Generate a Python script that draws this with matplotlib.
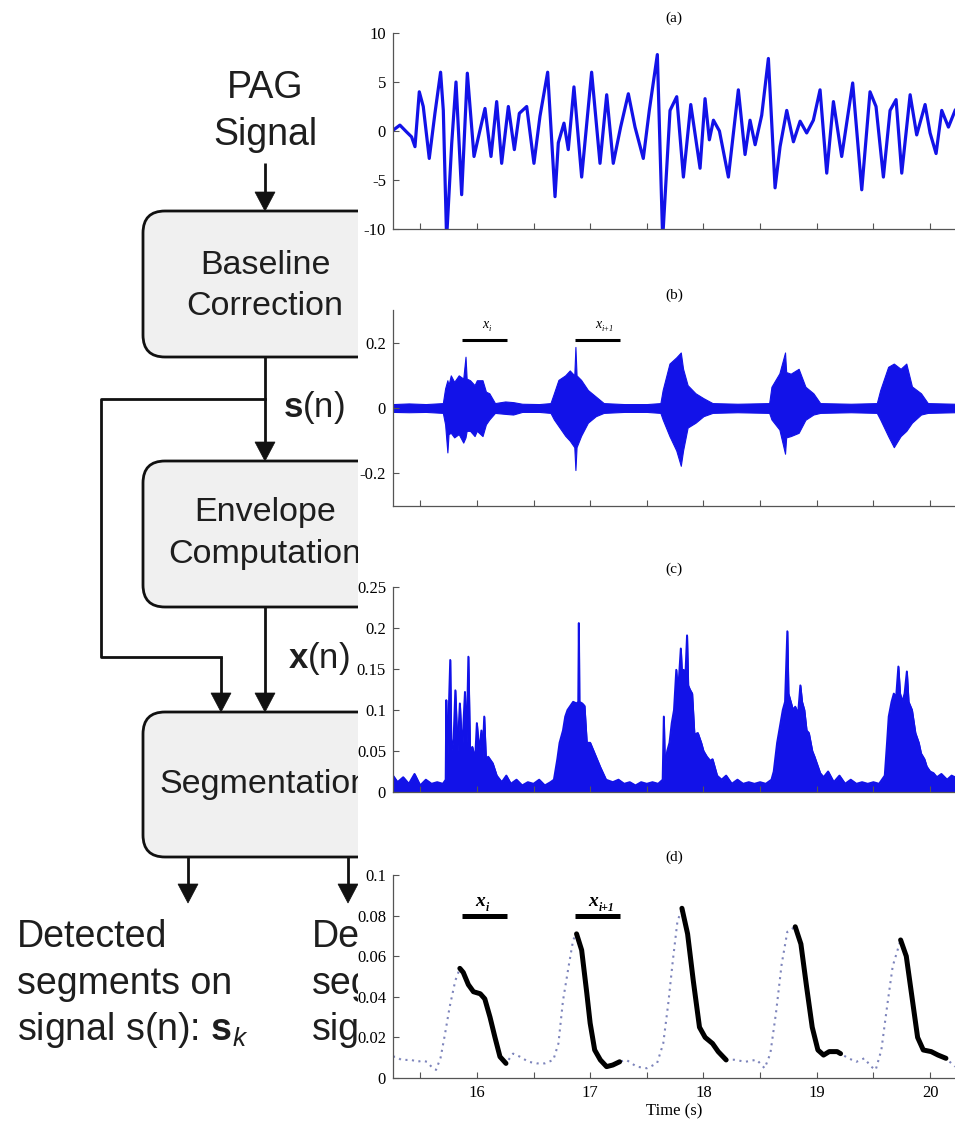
import matplotlib
matplotlib.use("Agg")
import matplotlib.pyplot as plt
import numpy as np
from matplotlib.patches import FancyBboxPatch, Polygon, Rectangle

plt.rcParams["mathtext.fontset"] = "custom"
plt.rcParams["mathtext.rm"] = "Liberation Sans"
plt.rcParams["mathtext.bf"] = "Liberation Sans:bold"
plt.rcParams["mathtext.it"] = "Liberation Sans:italic"
plt.rcParams["axes.unicode_minus"] = False

BLUE = "#1212e8"
AXC = "#555555"
SERIF = "Liberation Serif"
SANS = "Liberation Sans"

# ---------------- data ----------------
# (a) PAG signal, turning points
a_t = [15.263, 15.321, 15.380, 15.424, 15.454, 15.492, 15.527, 15.580, 15.630, 15.680,
       15.704, 15.733, 15.778, 15.816, 15.851, 15.866, 15.916, 15.975, 16.022, 16.072,
       16.125, 16.175, 16.219, 16.278, 16.331, 16.375, 16.440, 16.504, 16.557, 16.625,
       16.690, 16.719, 16.769, 16.807, 16.857, 16.925, 17.013, 17.087, 17.146, 17.204,
       17.269, 17.337, 17.396, 17.469, 17.522, 17.593, 17.640, 17.705, 17.764, 17.823,
       17.888, 17.970, 18.014, 18.052, 18.088, 18.141, 18.220, 18.308, 18.367, 18.411,
       18.456, 18.514, 18.573, 18.632, 18.676, 18.735, 18.794, 18.853, 18.911, 18.970,
       19.029, 19.088, 19.147, 19.220, 19.317, 19.397, 19.470, 19.523, 19.588, 19.647,
       19.700, 19.750, 19.824, 19.882, 19.956, 20.000, 20.053, 20.103, 20.162, 20.221]
a_v = [0.1, 0.6, -0.1, -0.6, -1.6, 4.0, 2.5, -2.8, 1.8, 6.0,
       2.1, -11, -1.3, 5.0, -3.0, -6.5, 5.9, -2.6, -0.2, 2.3,
       -2.6, 3.0, -3.3, 2.5, -1.9, 1.8, 2.5, -3.3, 1.5, 6.0,
       -6.7, -1.2, 0.8, -1.9, 4.5, -4.7, 6.0, -3.3, 3.7, -3.3,
       0.4, 3.8, 0.4, -2.8, 2.1, 7.8, -11, 2.1, 3.5, -4.7,
       2.7, -3.8, 3.3, -0.9, 1.1, 0.0, -4.7, 4.2, -2.4, 1.1,
       -1.4, 1.6, 7.4, -5.8, -1.6, 2.1, -1.1, 1.0, -0.2, 1.1,
       4.2, -4.3, 3.0, -2.6, 4.9, -6.0, 4.0, 2.5, -4.7, 2.1,
       3.2, -4.3, 3.7, -0.4, 2.7, -0.2, -2.3, 2.1, 0.4, 2.1]

# (b) baseline corrected signal s(n): upper / lower extent
b_t = [15.26, 15.40, 15.55, 15.70, 15.72, 15.74, 15.75, 15.77, 15.80, 15.84,
       15.88, 15.90, 15.91, 15.94, 15.98, 16.00, 16.05, 16.08, 16.11, 16.16,
       16.25, 16.32, 16.40, 16.55, 16.65, 16.68, 16.72, 16.78, 16.82, 16.86,
       16.87, 16.88, 16.92, 16.98, 17.05, 17.12, 17.30, 17.50, 17.62, 17.64,
       17.70, 17.76, 17.80, 17.82, 17.86, 17.93, 18.00, 18.08, 18.30, 18.58,
       18.60, 18.67, 18.72, 18.73, 18.77, 18.84, 18.90, 18.97, 19.03, 19.30,
       19.53, 19.56, 19.63, 19.68, 19.74, 19.79, 19.84, 19.92, 19.98, 20.22]
b_hi = [0.012, 0.014, 0.012, 0.015, 0.06, 0.085, 0.07, 0.10, 0.08, 0.10,
        0.09, 0.157, 0.09, 0.085, 0.07, 0.085, 0.085, 0.05, 0.045, 0.015,
        0.02, 0.018, 0.013, 0.012, 0.015, 0.045, 0.086, 0.10, 0.115, 0.10,
        0.187, 0.10, 0.086, 0.055, 0.035, 0.015, 0.012, 0.012, 0.015, 0.055,
        0.136, 0.155, 0.17, 0.12, 0.07, 0.045, 0.03, 0.015, 0.013, 0.015,
        0.065, 0.106, 0.17, 0.11, 0.105, 0.12, 0.065, 0.045, 0.015, 0.013,
        0.015, 0.055, 0.126, 0.136, 0.12, 0.136, 0.066, 0.045, 0.015, 0.013]
b_lo = [-0.012, -0.013, -0.012, -0.015, -0.05, -0.136, -0.08, -0.076, -0.09, -0.08,
        -0.106, -0.09, -0.07, -0.07, -0.086, -0.07, -0.086, -0.05, -0.035, -0.015,
        -0.018, -0.02, -0.012, -0.012, -0.015, -0.035, -0.055, -0.085, -0.10, -0.12,
        -0.19, -0.12, -0.085, -0.045, -0.025, -0.015, -0.012, -0.012, -0.015, -0.035,
        -0.086, -0.13, -0.177, -0.13, -0.06, -0.045, -0.025, -0.015, -0.013, -0.015,
        -0.035, -0.066, -0.14, -0.09, -0.086, -0.076, -0.036, -0.02, -0.015, -0.013,
        -0.015, -0.035, -0.086, -0.12, -0.086, -0.07, -0.045, -0.02, -0.015, -0.013]

# (c) envelope x(n): upper extent
c_t = [15.26, 15.30, 15.35, 15.40, 15.45, 15.50, 15.55, 15.60, 15.65, 15.70,
       15.725, 15.73, 15.74, 15.765, 15.775, 15.795, 15.81, 15.83, 15.85, 15.87,
       15.895, 15.91, 15.925, 15.94, 15.96, 15.985, 16.00, 16.02, 16.04, 16.05,
       16.065, 16.08, 16.10, 16.14, 16.175, 16.22, 16.26, 16.30, 16.35, 16.40,
       16.45, 16.50, 16.55, 16.60, 16.65, 16.68, 16.71, 16.73, 16.76, 16.78,
       16.80, 16.82, 16.85, 16.88, 16.895, 16.90, 16.905, 16.93, 16.95, 16.97,
       17.00, 17.03, 17.06, 17.09, 17.14, 17.20, 17.25, 17.30, 17.35, 17.40,
       17.45, 17.50, 17.55, 17.60, 17.64, 17.65, 17.66, 17.68, 17.70, 17.72,
       17.74, 17.76, 17.775, 17.80, 17.815, 17.825, 17.84, 17.855, 17.865, 17.88,
       17.90, 17.92, 17.95, 17.98, 18.00, 18.03, 18.06, 18.08, 18.12, 18.16,
       18.20, 18.25, 18.30, 18.35, 18.40, 18.45, 18.50, 18.55, 18.60, 18.62,
       18.65, 18.675, 18.70, 18.72, 18.74, 18.75, 18.77, 18.79, 18.81, 18.835,
       18.855, 18.87, 18.89, 18.91, 18.93, 18.96, 18.98, 19.00, 19.03, 19.06,
       19.10, 19.15, 19.20, 19.25, 19.30, 19.35, 19.40, 19.45, 19.50, 19.55,
       19.60, 19.62, 19.635, 19.66, 19.68, 19.70, 19.72, 19.735, 19.755, 19.775,
       19.795, 19.81, 19.84, 19.87, 19.90, 19.92, 19.95, 19.97, 20.00, 20.03,
       20.06, 20.10, 20.15, 20.19, 20.22]
c_v = [0.02, 0.012, 0.018, 0.01, 0.022, 0.008, 0.015, 0.01, 0.012, 0.01,
       0.015, 0.112, 0.04, 0.161, 0.05, 0.065, 0.124, 0.05, 0.108, 0.05,
       0.122, 0.06, 0.165, 0.05, 0.055, 0.04, 0.084, 0.05, 0.075, 0.04,
       0.092, 0.04, 0.043, 0.035, 0.02, 0.012, 0.02, 0.01, 0.015, 0.008,
       0.012, 0.01, 0.015, 0.008, 0.012, 0.015, 0.04, 0.06, 0.075, 0.092,
       0.10, 0.104, 0.11, 0.108, 0.11, 0.206, 0.11, 0.108, 0.105, 0.06,
       0.06, 0.05, 0.04, 0.03, 0.015, 0.012, 0.015, 0.01, 0.012, 0.008,
       0.012, 0.01, 0.012, 0.01, 0.015, 0.092, 0.03, 0.05, 0.06, 0.084,
       0.10, 0.149, 0.12, 0.175, 0.13, 0.149, 0.14, 0.191, 0.13, 0.125,
       0.12, 0.07, 0.072, 0.06, 0.05, 0.043, 0.038, 0.04, 0.02, 0.015,
       0.02, 0.01, 0.015, 0.01, 0.012, 0.01, 0.012, 0.01, 0.015, 0.025,
       0.06, 0.08, 0.10, 0.11, 0.196, 0.12, 0.11, 0.10, 0.104, 0.095,
       0.13, 0.11, 0.10, 0.075, 0.072, 0.05, 0.043, 0.035, 0.023, 0.018,
       0.025, 0.012, 0.02, 0.01, 0.015, 0.01, 0.012, 0.01, 0.012, 0.01,
       0.02, 0.06, 0.092, 0.11, 0.12, 0.115, 0.153, 0.12, 0.11, 0.12,
       0.147, 0.11, 0.10, 0.072, 0.06, 0.047, 0.04, 0.031, 0.025, 0.023,
       0.018, 0.022, 0.015, 0.02, 0.018]

# (d) smoothed envelope and detected segments
d_t = [15.26, 15.29, 15.33, 15.38, 15.42, 15.47, 15.52, 15.56, 15.60, 15.64,
       15.68, 15.72, 15.76, 15.81, 15.85, 15.88, 15.925, 15.97, 16.03, 16.07,
       16.116, 16.16, 16.204, 16.257, 16.32, 16.38, 16.455, 16.53, 16.60, 16.675,
       16.72, 16.76, 16.81, 16.85, 16.88, 16.925, 16.97, 17.00, 17.04, 17.09,
       17.145, 17.20, 17.26, 17.32, 17.41, 17.50, 17.59, 17.645, 17.69, 17.73,
       17.77, 17.81, 17.86, 17.91, 17.965, 18.015, 18.08, 18.13, 18.20, 18.27,
       18.37, 18.47, 18.54, 18.59, 18.64, 18.69, 18.74, 18.81, 18.86, 18.91,
       18.96, 19.01, 19.06, 19.11, 19.18, 19.21, 19.28, 19.35, 19.42, 19.48,
       19.52, 19.57, 19.62, 19.67, 19.74, 19.79, 19.84, 19.89, 19.94, 20.01,
       20.07, 20.14, 20.22]
d_v = [0.0105, 0.0105, 0.009, 0.0089, 0.009, 0.008, 0.0085, 0.008, 0.0055, 0.004,
       0.010, 0.022, 0.035, 0.048, 0.054, 0.052, 0.046, 0.0425, 0.0415, 0.039,
       0.030, 0.020, 0.0105, 0.0072, 0.012, 0.0105, 0.008, 0.0072, 0.0072, 0.0089,
       0.017, 0.038, 0.055, 0.068, 0.071, 0.063, 0.042, 0.027, 0.0138, 0.0089,
       0.0056, 0.0064, 0.008, 0.0089, 0.0056, 0.0048, 0.0072, 0.017, 0.037, 0.058,
       0.077, 0.0836, 0.071, 0.048, 0.025, 0.020, 0.017, 0.013, 0.0089, 0.009,
       0.008, 0.009, 0.0048, 0.012, 0.032, 0.056, 0.072, 0.0745, 0.066, 0.045,
       0.025, 0.0138, 0.0113, 0.013, 0.013, 0.012, 0.0097, 0.008, 0.0097, 0.0056,
       0.004, 0.0138, 0.035, 0.055, 0.068, 0.060, 0.040, 0.020, 0.0138, 0.013,
       0.0113, 0.0097, 0.0056]
seg_start = [15.85, 16.88, 17.81, 18.81, 19.74]
seg_end = [16.257, 17.26, 18.20, 19.21, 20.14]

# windows x_i and x_{i+1}
win_start = [15.87, 16.87]
win_end = [16.27, 17.26]
win_sub = ["i", "i+1"]

x_ticks = [15.5, 16, 16.5, 17, 17.5, 18, 18.5, 19, 19.5, 20]
x_ticklabels = ["", "16", "", "17", "", "18", "", "19", "", "20"]
a_yticks = [-10, -5, 0, 5, 10]
a_ylabels = ["-10", "-5", "0", "5", "10"]
b_yticks = [-0.2, 0, 0.2]
b_ylabels = ["-0.2", "0", "0.2"]
c_yticks = [0, 0.05, 0.1, 0.15, 0.2, 0.25]
c_ylabels = ["0", "0.05", "0.1", "0.15", "0.2", "0.25"]
d_yticks = [0, 0.02, 0.04, 0.06, 0.08, 0.1]
d_ylabels = ["0", "0.02", "0.04", "0.06", "0.08", "0.1"]

W, H = 955, 1124
fig = plt.figure(figsize=(W / 100, H / 100), dpi=100)

# ---------------- block diagram (pixel coordinates) ----------------
bg = fig.add_axes([0, 0, 1, 1])
bg.set_xlim(0, W)
bg.set_ylim(H, 0)
bg.axis("off")

LW = 2.0
TXT = "#1e1e1e"
EDGE = 358  # the signal panels cover the diagram from here on


def box(x0, y0, x1, y1):
    bg.add_patch(FancyBboxPatch((x0, y0), x1 - x0, y1 - y0,
                                boxstyle="round,pad=0,rounding_size=22",
                                fc="#f0f0f0", ec="#111111", lw=LW, zorder=2))


def arrow(pts):
    xs = [p[0] for p in pts]
    ys = [p[1] for p in pts]
    ys[-1] = ys[-1] - 15
    bg.plot(xs, ys, color="#111111", lw=LW, solid_capstyle="butt", zorder=3)
    tx, ty = pts[-1]
    bg.add_patch(Polygon([(tx - 10, ty - 19), (tx + 10, ty - 19), (tx, ty)],
                         closed=True, fc="#111111", ec="#111111", lw=0.5, zorder=3))


cx = 265
bg.text(cx, 98, "PAG", ha="center", va="baseline", fontsize=27, family=SANS, color=TXT)
bg.text(cx, 145, "Signal", ha="center", va="baseline", fontsize=27, family=SANS, color=TXT)
arrow([(cx, 163), (cx, 211)])

box(143, 211, 387, 357)
bg.text(cx, 274, "Baseline", ha="center", va="baseline", fontsize=24.5, family=SANS, color=TXT)
bg.text(cx, 315, "Correction", ha="center", va="baseline", fontsize=24.5, family=SANS, color=TXT)
arrow([(cx, 357), (cx, 461)])
bg.plot([cx, 101, 101, 221], [399, 399, 657, 657], color="#111111", lw=LW, zorder=3)
arrow([(221, 657), (221, 712)])
bg.text(283, 417, r"$\mathbf{s}$(n)", ha="left", va="baseline", fontsize=25, family=SANS, color=TXT)

box(143, 461, 387, 607)
bg.text(cx, 521, "Envelope", ha="center", va="baseline", fontsize=24.5, family=SANS, color=TXT)
bg.text(cx, 563, "Computation", ha="center", va="baseline", fontsize=24.5, family=SANS, color=TXT)
arrow([(cx, 607), (cx, 712)])
bg.text(288, 668, r"$\mathbf{x}$(n)", ha="left", va="baseline", fontsize=25, family=SANS, color=TXT)

box(143, 712, 387, 857)
bg.text(cx, 793, "Segmentation", ha="center", va="baseline", fontsize=24.5, family=SANS, color=TXT)
arrow([(188, 857), (188, 903)])
arrow([(348, 857), (348, 903)])

left_lines = ["Detected", "segments on", r"signal s(n): $\mathbf{s}_{\mathit{k}}$"]
right_lines = ["De", "seg", "sig"]  # only the part left of the panels shows
clip = Rectangle((0, 0), EDGE, H, transform=bg.transData)
for i, (l1, l2) in enumerate(zip(left_lines, right_lines)):
    yb = 947 + i * 46.5
    bg.text(17, yb, l1, ha="left", va="baseline", fontsize=27, family=SANS, color=TXT)
    t2 = bg.text(312, yb, l2, ha="left", va="baseline", fontsize=27, family=SANS, color=TXT)
    t2.set_clip_path(clip)

# the signal panels sit on top of the right part of the diagram
bg.add_patch(Rectangle((EDGE, 0), W - EDGE, H, fc="white", ec="none", zorder=10))


# ---------------- signal panels ----------------
def panel(top, bottom, ylim, yticks, ylabels, title, title_y, xlabels=False):
    ax = fig.add_axes([393 / W, 1 - bottom / H, (W - 393) / W, (bottom - top) / H])
    ax.set_facecolor("none")
    ax.set_xlim(15.26, 20.22)
    ax.set_ylim(*ylim)
    for s in ("top", "right"):
        ax.spines[s].set_visible(False)
    for s in ("left", "bottom"):
        ax.spines[s].set_color(AXC)
        ax.spines[s].set_linewidth(0.9)
    ax.set_yticks(yticks)
    ax.set_yticklabels(ylabels)
    ax.set_xticks(x_ticks)
    ax.set_xticklabels(x_ticklabels if xlabels else [""] * len(x_ticks))
    ax.tick_params(direction="in", length=4, width=0.8, color=AXC,
                   labelsize=12, pad=5, labelcolor="black")
    for lab in ax.get_xticklabels() + ax.get_yticklabels():
        lab.set_family(SERIF)
    fig.text(674 / W, 1 - title_y / H, title, ha="center", va="center",
             fontsize=11, family=SERIF)
    return ax


def window_label(ax, t, y, sub, size, weight):
    ax.annotate("x", (t, y), ha="right", va="baseline", fontsize=size, family=SERIF,
                style="italic", weight=weight)
    ax.annotate(sub, (t, y), xytext=(0.5, -size * 0.25), textcoords="offset points",
                ha="left", va="baseline", fontsize=size * 0.6, family=SERIF,
                style="italic", weight=weight)


# (a)
ax_a = panel(33, 229, (-10, 10), a_yticks, a_ylabels, "(a)", 18)
ax_a.plot(a_t, a_v, color=BLUE, lw=2.3, solid_joinstyle="round")

# (b)
ax_b = panel(310, 506, (-0.3, 0.3), b_yticks, b_ylabels, "(b)", 295)
ax_b.fill_between(b_t, b_lo, b_hi, color=BLUE, lw=0.8, ec=BLUE)
for s0, s1, sub in zip(win_start, win_end, win_sub):
    ax_b.plot([s0, s1], [0.209, 0.209], color="black", lw=2.2, solid_capstyle="butt")
    window_label(ax_b, (s0 + s1) / 2 + 0.03, 0.245, sub, 10, "normal")

# (c)
ax_c = panel(587, 792, (0, 0.25), c_yticks, c_ylabels, "(c)", 569)
ax_c.fill_between(c_t, 0, c_v, color=BLUE, lw=0.8, ec=BLUE)
ax_c.plot(c_t, c_v, color=BLUE, lw=1.4)

# (d)
ax_d = panel(875, 1078, (0, 0.1), d_yticks, d_ylabels, "(d)", 857, xlabels=True)
t_arr = np.array(d_t)
v_arr = np.array(d_v)
ax_d.plot(t_arr, v_arr, color="#7d84bb", lw=1.5, linestyle=(0, (1, 2.2)))
for s0, s1 in zip(seg_start, seg_end):
    m = (t_arr >= s0 - 1e-9) & (t_arr <= s1 + 1e-9)
    ax_d.plot(t_arr[m], v_arr[m], color="black", lw=3.6, solid_capstyle="round",
              solid_joinstyle="round")
for s0, s1, sub in zip(win_start, win_end, win_sub):
    ax_d.plot([s0, s1], [0.080, 0.080], color="black", lw=3.6, solid_capstyle="butt")
    window_label(ax_d, (s0 + s1) / 2, 0.0845, sub, 14, "bold")
ax_d.set_xlabel("Time (s)", fontsize=12, family=SERIF, labelpad=2)

fig.savefig("out.png", dpi=100)
